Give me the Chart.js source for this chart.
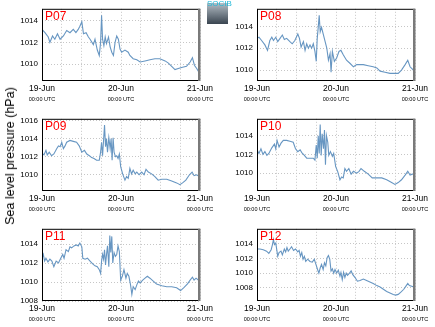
<!DOCTYPE html>
<html>
<head>
<meta charset="utf-8">
<script src="https://cdn.jsdelivr.net/npm/chart.js@4.4.1/dist/chart.umd.min.js"></script>
<style>
html, body { margin: 0; padding: 0; background: #fff; }
#wrap { position: relative; width: 435px; height: 327px; overflow: hidden; font-family: "Liberation Sans", Arial, sans-serif; }
.cell { position: absolute; width: 217px; height: 107px; }
#ylab { position: absolute; left: 10px; top: 156px; transform: translate(-50%, -50%) rotate(-90deg); font: normal 12.5px "Liberation Sans", Arial, sans-serif; white-space: nowrap; color: #000; }
#logo { position: absolute; left: 207px; top: 3px; width: 21px; height: 21px; background: linear-gradient(#b4bec6, #3a4550); }
#logo span { position: absolute; left: 0; top: -4px; width: 21px; text-align: center; font-size: 8px; color: #1fb8d8; }
</style>
</head>
<body>
<div id="wrap">
  <div class="cell" style="left:0;top:0"><canvas id="c0" width="217" height="107"></canvas></div>
  <div class="cell" style="left:215px;top:0"><canvas id="c1" width="217" height="107"></canvas></div>
  <div class="cell" style="left:0;top:110px"><canvas id="c2" width="217" height="107"></canvas></div>
  <div class="cell" style="left:215px;top:110px"><canvas id="c3" width="217" height="107"></canvas></div>
  <div class="cell" style="left:0;top:220px"><canvas id="c4" width="217" height="107"></canvas></div>
  <div class="cell" style="left:215px;top:220px"><canvas id="c5" width="217" height="107"></canvas></div>
  <div id="logo"><span>SOCIB</span></div>
  <div id="ylab">Sea level pressure (hPa)</div>
</div>
<script>
// hours since 19-Jun 00:00 UTC
var panelNames = ['P07', 'P08', 'P09', 'P10', 'P11', 'P12'];
var dayHours = [0, 24, 48];
var dayLabels = ['19-Jun', '20-Jun', '21-Jun'];
var timeLabel = '00:00 UTC';
var gridHours = [0, 6, 12, 18, 24, 30, 36, 42, 48];

var yMins = [1008.45, 1009.0, 1008.2, 1008.1, 1008.0, 1006.2];
var yMaxs = [1015.1, 1015.6, 1016.2, 1015.8, 1015.6, 1016.05];
var yTicks = [
  [1010, 1012, 1014],
  [1010, 1012, 1014],
  [1010, 1012, 1014, 1016],
  [1010, 1012, 1014],
  [1008, 1010, 1012, 1014],
  [1008, 1010, 1012, 1014]
];

var p07Hours = [0,0.9,1.9,2.4,3.2,3.9,4.7,5.5,6.5,7.5,8.5,9.5,10.3,11.0,11.5,12.1,12.6,13.4,14.1,14.6,15.6,16.1,16.8,17.4,17.8,18.1,18.4,18.8,19.2,19.6,20.2,20.7,21.2,21.7,22.2,22.7,23.2,23.7,24.2,25.2,26.2,26.7,27.7,28.8,29.8,31.3,32.8,34.3,35.8,37.4,38.4,39.4,40.4,41.4,42.4,43.9,45.0,45.7,46.3,47.0,47.8,48];
var p07Pres = [1013.2,1012.9,1012.5,1012.0,1012.6,1012.3,1012.8,1012.3,1012.6,1013.1,1012.9,1013.2,1012.9,1013.2,1013.5,1013.9,1012.8,1012.9,1012.5,1012.3,1011.8,1012.3,1011.3,1010.8,1012.0,1014.5,1012.3,1011.7,1012.5,1011.9,1012.5,1011.6,1011.1,1010.8,1012.0,1012.6,1012.3,1011.4,1011.1,1011.3,1011.1,1010.8,1010.5,1010.4,1010.2,1010.3,1010.4,1010.5,1010.5,1010.3,1010.1,1009.8,1009.5,1009.6,1009.7,1009.8,1010.2,1010.6,1009.9,1009.6,1009.2,1008.9];

var p08Hours = [0,0.6,1.4,2.4,3.2,3.9,4.5,5.0,5.7,6.3,7.0,7.7,8.3,9.0,10.0,10.7,11.5,12.4,12.9,13.4,14.1,14.6,15.1,15.6,16.1,16.6,17.1,17.6,18.0,18.3,18.6,18.9,19.2,19.6,20.2,20.7,21.2,21.7,22.2,22.5,22.9,23.5,24.2,24.9,25.5,26.2,27.2,28.3,29.3,30.3,31.3,32.3,33.8,35.3,36.4,37.4,38.9,40.4,41.9,42.9,43.9,45.0,45.8,46.5,47.5,48];
var p08Pres = [1012.9,1013.0,1012.7,1012.3,1011.8,1012.7,1013.0,1012.7,1013.0,1012.6,1012.9,1013.2,1012.8,1012.9,1012.6,1012.4,1012.7,1013.3,1012.9,1012.1,1012.6,1011.8,1012.4,1012.0,1012.3,1012.0,1012.4,1011.7,1010.8,1012.9,1013.9,1015.0,1013.5,1013.9,1013.2,1012.6,1012.0,1010.9,1011.5,1009.8,1011.7,1010.8,1011.1,1011.7,1011.8,1011.4,1010.9,1010.6,1010.3,1010.5,1010.5,1010.5,1010.4,1010.3,1010.2,1009.9,1009.8,1009.7,1009.7,1009.7,1010.0,1010.5,1010.9,1010.3,1010.0,1009.5];

var p09Hours = [0,0.6,1.2,1.6,2.2,2.9,3.6,4.5,5.0,5.5,6.0,6.5,7.0,7.5,8.5,9.5,10.5,11.3,12.1,12.9,13.6,14.4,15.1,15.8,16.6,17.4,17.8,18.1,18.4,18.7,19.0,19.3,19.6,19.9,20.3,20.7,21.0,21.3,21.6,21.9,22.3,22.7,23.1,23.5,23.9,24.5,25.2,25.7,26.2,26.7,27.2,27.7,28.3,28.8,29.5,30.3,31.0,31.6,32.3,33.3,34.3,35.3,36.4,37.9,39.4,40.9,41.9,42.7,43.7,44.8,45.6,46.2,47.0,47.8,48];
var p09Pres = [1012.4,1012.2,1012.7,1012.2,1012.5,1012.1,1012.3,1012.9,1013.2,1013.1,1013.6,1012.9,1013.2,1013.6,1013.8,1013.7,1013.6,1013.2,1012.5,1012.7,1012.3,1012.1,1011.9,1011.8,1011.6,1011.6,1012.5,1013.6,1012.1,1013.8,1015.5,1013.1,1014.0,1012.5,1014.1,1012.9,1014.0,1011.6,1014.1,1012.5,1012.0,1012.1,1011.8,1012.3,1010.9,1010.1,1009.4,1009.8,1009.6,1010.7,1010.1,1010.5,1010.1,1010.3,1010.0,1010.3,1010.0,1010.6,1010.3,1010.1,1009.8,1009.4,1009.5,1009.5,1009.3,1009.1,1008.9,1009.1,1009.4,1010.0,1010.3,1009.9,1010.0,1009.8,1009.6];

var p10Hours = [0,0.6,1.2,1.8,2.4,3.0,3.6,4.5,5.3,5.7,6.1,6.7,7.3,8.0,9.0,10.0,11.0,11.7,12.4,13.1,13.6,14.4,15.1,16.1,17.1,17.6,18.0,18.3,18.6,18.9,19.2,19.5,19.8,20.2,20.5,20.8,21.1,21.5,21.8,22.3,22.9,23.3,23.9,24.5,25.2,25.7,26.2,26.7,27.2,27.9,28.6,29.3,30.3,31.0,31.6,32.6,33.8,35.0,36.4,37.9,39.4,40.9,41.9,42.9,43.9,45.0,45.8,46.5,47.2,47.8,48];
var p10Pres = [1012.5,1012.1,1012.6,1012.0,1012.3,1011.9,1012.1,1012.7,1013.1,1012.6,1013.5,1012.8,1013.2,1013.5,1013.5,1013.4,1013.3,1012.6,1012.3,1012.5,1012.2,1011.9,1011.6,1011.6,1011.6,1011.4,1013.0,1011.6,1014.0,1012.1,1015.2,1011.9,1014.2,1012.6,1014.6,1010.9,1014.0,1013.3,1011.9,1012.3,1011.8,1012.1,1010.7,1010.2,1009.3,1009.6,1009.5,1010.5,1010.2,1010.5,1009.9,1010.2,1010.0,1010.2,1010.5,1010.2,1009.9,1009.5,1009.5,1009.5,1009.3,1009.0,1008.8,1009.0,1009.3,1009.8,1010.2,1009.8,1009.9,1010.0,1009.6];

var p11Hours = [0,0.4,0.8,1.2,1.8,2.4,3.0,3.6,4.3,5.0,5.7,6.3,6.7,7.3,8.0,8.5,9.0,9.7,10.5,11.0,11.5,12.1,12.4,13.1,13.8,14.6,15.4,16.1,16.8,17.4,17.8,18.1,18.4,18.7,19.0,19.3,19.6,19.9,20.3,20.6,20.9,21.2,21.5,21.9,22.3,22.7,23.1,23.5,23.9,24.4,24.9,25.5,25.9,26.4,26.9,27.3,27.7,28.3,28.8,29.3,29.8,30.6,31.3,32.0,32.8,33.8,34.8,36.4,37.9,39.4,40.9,42.1,43.1,44.2,45.0,45.7,46.2,46.8,47.5,48];
var p11Pres = [1012.5,1012.9,1012.2,1012.5,1012.1,1012.4,1012.2,1011.6,1012.2,1012.0,1012.5,1012.9,1012.5,1013.4,1013.2,1013.7,1013.6,1013.8,1013.9,1013.8,1014.1,1013.7,1012.5,1012.4,1012.5,1012.2,1011.9,1011.7,1011.6,1011.3,1010.9,1012.2,1012.9,1012.4,1013.4,1011.8,1012.9,1013.8,1011.6,1014.9,1013.1,1014.8,1012.0,1013.1,1012.7,1012.9,1013.8,1013.2,1010.2,1010.6,1011.3,1010.4,1010.9,1010.6,1009.7,1008.7,1009.5,1009.2,1009.7,1010.1,1009.9,1010.2,1010.4,1010.6,1010.4,1010.1,1009.8,1009.6,1009.5,1009.5,1009.4,1009.1,1009.4,1009.8,1010.2,1010.5,1010.2,1010.4,1010.2,1009.9];

var p12Hours = [0,0.9,1.9,2.9,3.6,4.3,4.7,5.0,5.3,5.7,6.0,6.3,6.7,7.3,7.7,8.3,8.7,9.1,9.5,10.0,10.5,11.1,11.7,12.4,12.8,13.2,13.6,14.0,14.4,14.8,15.4,16.1,16.8,17.4,17.9,18.4,18.8,19.2,19.6,20.1,20.5,20.9,21.3,21.7,22.1,22.5,22.9,23.3,23.7,24.2,24.7,25.2,25.5,25.9,26.3,26.7,27.1,27.5,28.1,28.6,29.1,29.8,30.5,31.3,32.3,33.3,34.3,35.3,36.4,37.4,38.4,39.4,40.4,41.4,42.1,42.9,43.7,44.6,45.2,45.8,46.3,47.0,47.6,48];
var p12Pres = [1013.3,1013.3,1013.2,1013.0,1012.7,1013.2,1013.9,1014.6,1013.9,1014.1,1013.2,1012.3,1012.8,1013.0,1012.5,1013.3,1012.9,1013.5,1013.0,1013.3,1013.6,1013.1,1013.3,1012.9,1013.1,1012.3,1012.8,1011.9,1012.3,1011.6,1011.9,1011.6,1011.5,1011.9,1011.2,1010.5,1010.0,1010.7,1011.2,1010.5,1011.4,1011.0,1012.1,1012.4,1011.9,1010.3,1010.6,1010.0,1010.5,1010.0,1010.4,1009.6,1010.1,1009.1,1010.1,1009.4,1010.0,1009.7,1010.0,1010.3,1009.8,1009.4,1008.9,1009.0,1009.2,1009.0,1008.8,1008.6,1008.3,1008.1,1007.8,1007.5,1007.3,1007.1,1007.0,1007.1,1007.4,1007.8,1008.2,1008.6,1008.3,1008.2,1008.1,1007.8];

var allHours = [p07Hours, p08Hours, p09Hours, p10Hours, p11Hours, p12Hours];
var allPres = [p07Pres, p08Pres, p09Pres, p10Pres, p11Pres, p12Pres];

var fontFam = '"Liberation Sans", Arial, sans-serif';

// frame, red panel name, small time line under the dates
var panelDeco = {
  id: 'panelDeco',
  afterDraw: function (chart) {
    var ctx = chart.ctx, a = chart.chartArea;
    ctx.save();
    ctx.strokeStyle = '#000';
    ctx.lineWidth = 1;
    ctx.strokeRect(a.left + 0.5, a.top + 0.5, a.right - a.left - 1, a.bottom - a.top - 1);
    ctx.fillStyle = '#7a7a7a';
    ctx.fillRect(a.right - 2, a.top, 2.5, a.bottom - a.top);
    ctx.fillStyle = '#ff0000';
    ctx.font = '12px ' + fontFam;
    ctx.textAlign = 'left';
    ctx.textBaseline = 'alphabetic';
    ctx.fillText(chart.options.panelName, a.left + 3, a.top + 11.5);
    ctx.fillStyle = '#000';
    ctx.font = '5.5px ' + fontFam;
    ctx.textAlign = 'center';
    ctx.textBaseline = 'middle';
    dayHours.forEach(function (h) {
      ctx.fillText(timeLabel, chart.scales.x.getPixelForValue(h), a.bottom + 18);
    });
    ctx.restore();
  }
};

function gridOpts() {
  return { color: '#c6c6c6', lineWidth: 1, drawTicks: false, borderDash: [1, 2] };
}

panelNames.forEach(function (name, i) {
  var pts = allHours[i].map(function (h, k) { return { x: h, y: allPres[i][k] }; });
  new Chart(document.getElementById('c' + i), {
    type: 'line',
    data: {
      datasets: [{
        data: pts,
        borderColor: '#6796c2',
        borderWidth: 1.1,
        pointRadius: 0,
        tension: 0,
        fill: false
      }]
    },
    options: {
      panelName: name,
      responsive: false,
      animation: false,
      layout: { padding: { left: 0, right: 17, top: 8, bottom: 4 } },
      plugins: { legend: { display: false }, tooltip: { enabled: false } },
      scales: {
        x: {
          type: 'linear', min: 0, max: 48,
          afterBuildTicks: function (s) { s.ticks = gridHours.map(function (v) { return { value: v }; }); },
          afterFit: function (s) { s.height = 22; },
          grid: gridOpts(),
          border: { display: false, dash: [1, 2] },
          ticks: {
            autoSkip: false, maxRotation: 0, minRotation: 0, padding: 3, color: '#000',
            font: { size: 8.5, family: fontFam },
            callback: function (v) { var j = dayHours.indexOf(v); return j < 0 ? '' : dayLabels[j]; }
          }
        },
        y: {
          min: yMins[i], max: yMaxs[i],
          afterBuildTicks: function (s) { s.ticks = yTicks[i].map(function (v) { return { value: v }; }); },
          afterFit: function (s) { s.width = 42; },
          grid: gridOpts(),
          border: { display: false, dash: [1, 2] },
          ticks: {
            padding: 4, color: '#000',
            font: { size: 8, family: fontFam },
            callback: function (v) { return String(v); }
          }
        }
      }
    },
    plugins: [panelDeco]
  });
});
</script>
</body>
</html>
